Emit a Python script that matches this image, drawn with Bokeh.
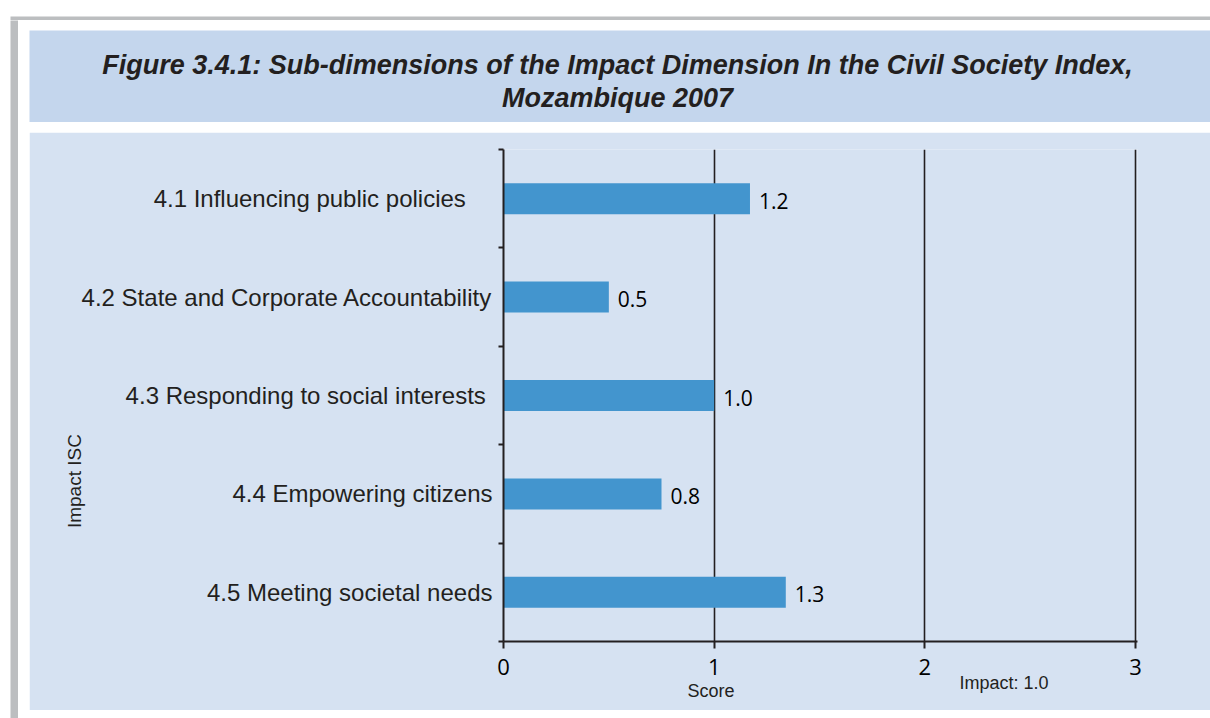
from bokeh.plotting import figure
from bokeh.models import (Range1d, FixedTicker, Label, ColumnDataSource, LinearAxis, Spacer)
from bokeh.layouts import column, row
from bokeh.core.properties import value
from bokeh.embed import file_html
from bokeh.resources import INLINE

# ---- data ----
categories = ["4.1 Influencing public policies    ",
              "4.2 State and Corporate Accountability",
              "4.3 Responding to social interests ",
              "4.4 Empowering citizens",
              "4.5 Meeting societal needs"]
scores = [1.17, 0.50, 1.00, 0.75, 1.34]
score_labels = ["1.2", "0.5", "1.0", "0.8", "1.3"]
x_ticks = [0, 1, 2, 3]
title_lines = ["Figure 3.4.1: Sub-dimensions of the Impact Dimension In the Civil Society Index,",
               "Mozambique 2007"]
x_axis_title = "Score"
y_axis_title = "Impact ISC"
note_text = "Impact: 1.0"

TEXT = "#231f20"
GRAY = "#bcbec0"
TITLE_BG = "#c4d6ed"
PANEL_BG = "#d6e2f2"

def no_align(f):
    try:
        f.frame_align = False
    except Exception:
        pass

def block(w, h, color):
    f = figure(width=w, height=h, output_backend="svg", toolbar_location=None,
               x_axis_type=None, y_axis_type=None, min_border=0,
               x_range=Range1d(0, 1), y_range=Range1d(0, 1))
    f.background_fill_color = color
    f.border_fill_color = color
    f.outline_line_color = None
    f.grid.visible = False
    no_align(f)
    return f

# ---- title panel ----
TW, TH = 1181, 92
tf = figure(width=TW, height=TH, output_backend="svg", toolbar_location=None,
            x_axis_type=None, y_axis_type=None, min_border=0,
            x_range=Range1d(0, TW), y_range=Range1d(TH, 0))
tf.background_fill_color = TITLE_BG
tf.border_fill_color = TITLE_BG
tf.outline_line_color = None
tf.grid.visible = False
no_align(tf)
for i, line in enumerate(title_lines):
    tf.add_layout(Label(x=588, y=34 + 33 * i, text=line, text_align="center",
                        text_baseline="middle", text_font="Liberation Sans",
                        text_font_style="bold italic", text_font_size="27px",
                        text_color=TEXT))

# ---- chart panel ----
CW, CH = 1181, 578
PX_PER_UNIT = 632 / 3.0
p = figure(width=CW, height=CH, output_backend="svg", toolbar_location=None,
           x_range=Range1d(0, 634 / PX_PER_UNIT), y_range=Range1d(5, 0),
           min_border_left=474, min_border_right=73,
           min_border_top=17, min_border_bottom=69)
p.border_fill_color = PANEL_BG
p.background_fill_color = PANEL_BG
p.outline_line_color = None
no_align(p)

centers = [i + 0.5 for i in range(len(categories))]
src = ColumnDataSource(dict(y=centers, right=scores, lab=score_labels))
p.hbar(y="y", left=0, right="right", height=0.315, source=src,
       fill_color="#4395ce", line_color=None)
p.text(x="right", y="y", text="lab", source=src, x_offset=9, y_offset=2,
       text_font=value("Open Sans"), text_font_size="21px", text_color="black",
       text_baseline="middle", text_align="left")

p.ygrid.visible = False
p.xgrid.ticker = FixedTicker(ticks=x_ticks)
p.xgrid.grid_line_color = TEXT
p.xgrid.grid_line_width = 1.6

xa = p.xaxis[0]
xa.ticker = FixedTicker(ticks=x_ticks)
xa.axis_line_color = TEXT
xa.axis_line_width = 2
xa.major_tick_line_color = TEXT
xa.major_tick_line_width = 2
xa.major_tick_out = 7
xa.major_tick_in = 0
xa.minor_tick_line_color = None
xa.major_label_text_font = "Open Sans"
xa.major_label_text_font_size = "22px"
xa.major_label_text_color = "black"
xa.major_label_standoff = 10

ya = p.yaxis[0]
ya.ticker = FixedTicker(ticks=centers, minor_ticks=[0, 1, 2, 3, 4, 5])
ya.major_label_overrides = {c: lab for c, lab in zip(centers, categories)}
ya.axis_line_color = TEXT
ya.axis_line_width = 2
ya.major_tick_line_color = None
ya.major_tick_out = 0
ya.major_tick_in = 0
ya.minor_tick_line_color = TEXT
ya.minor_tick_line_width = 2
ya.minor_tick_out = 5
ya.minor_tick_in = 0
ya.major_label_text_font = "Liberation Sans"
ya.major_label_text_font_size = "24px"
ya.major_label_text_color = TEXT
ya.major_label_standoff = 6

# extra axes carrying the axis titles at their positions
X_SCORE, X_NOTE = 0.985, 2.376

def text_axis(ticks, labels, standoff, size, orientation="horizontal"):
    return LinearAxis(ticker=FixedTicker(ticks=ticks),
                      major_label_overrides=dict(zip(ticks, labels)),
                      major_label_orientation=orientation,
                      axis_line_color=None, major_tick_line_color=None,
                      minor_tick_line_color=None, major_label_standoff=standoff,
                      major_label_text_font="Liberation Sans",
                      major_label_text_font_size=size, major_label_text_color=TEXT)

p.add_layout(text_axis([X_NOTE], [note_text], -11, "18px"), "below")
p.add_layout(text_axis([X_SCORE], [x_axis_title], -21, "18px"), "below")

Y_ISC = 3.37
p.add_layout(text_axis([Y_ISC], [y_axis_title], -13, "19px", "vertical"), "left")

# ---- page layout ----
root = column(
    Spacer(width=1210, height=12),
    row(Spacer(width=10, height=8), block(1200, 8, GRAY)),
    row(Spacer(width=10, height=698), block(8, 698, GRAY), Spacer(width=11, height=698),
        column(Spacer(width=TW, height=10), tf, Spacer(width=TW, height=10), p)),
)

open("out.html", "w").write(file_html(root, INLINE))
